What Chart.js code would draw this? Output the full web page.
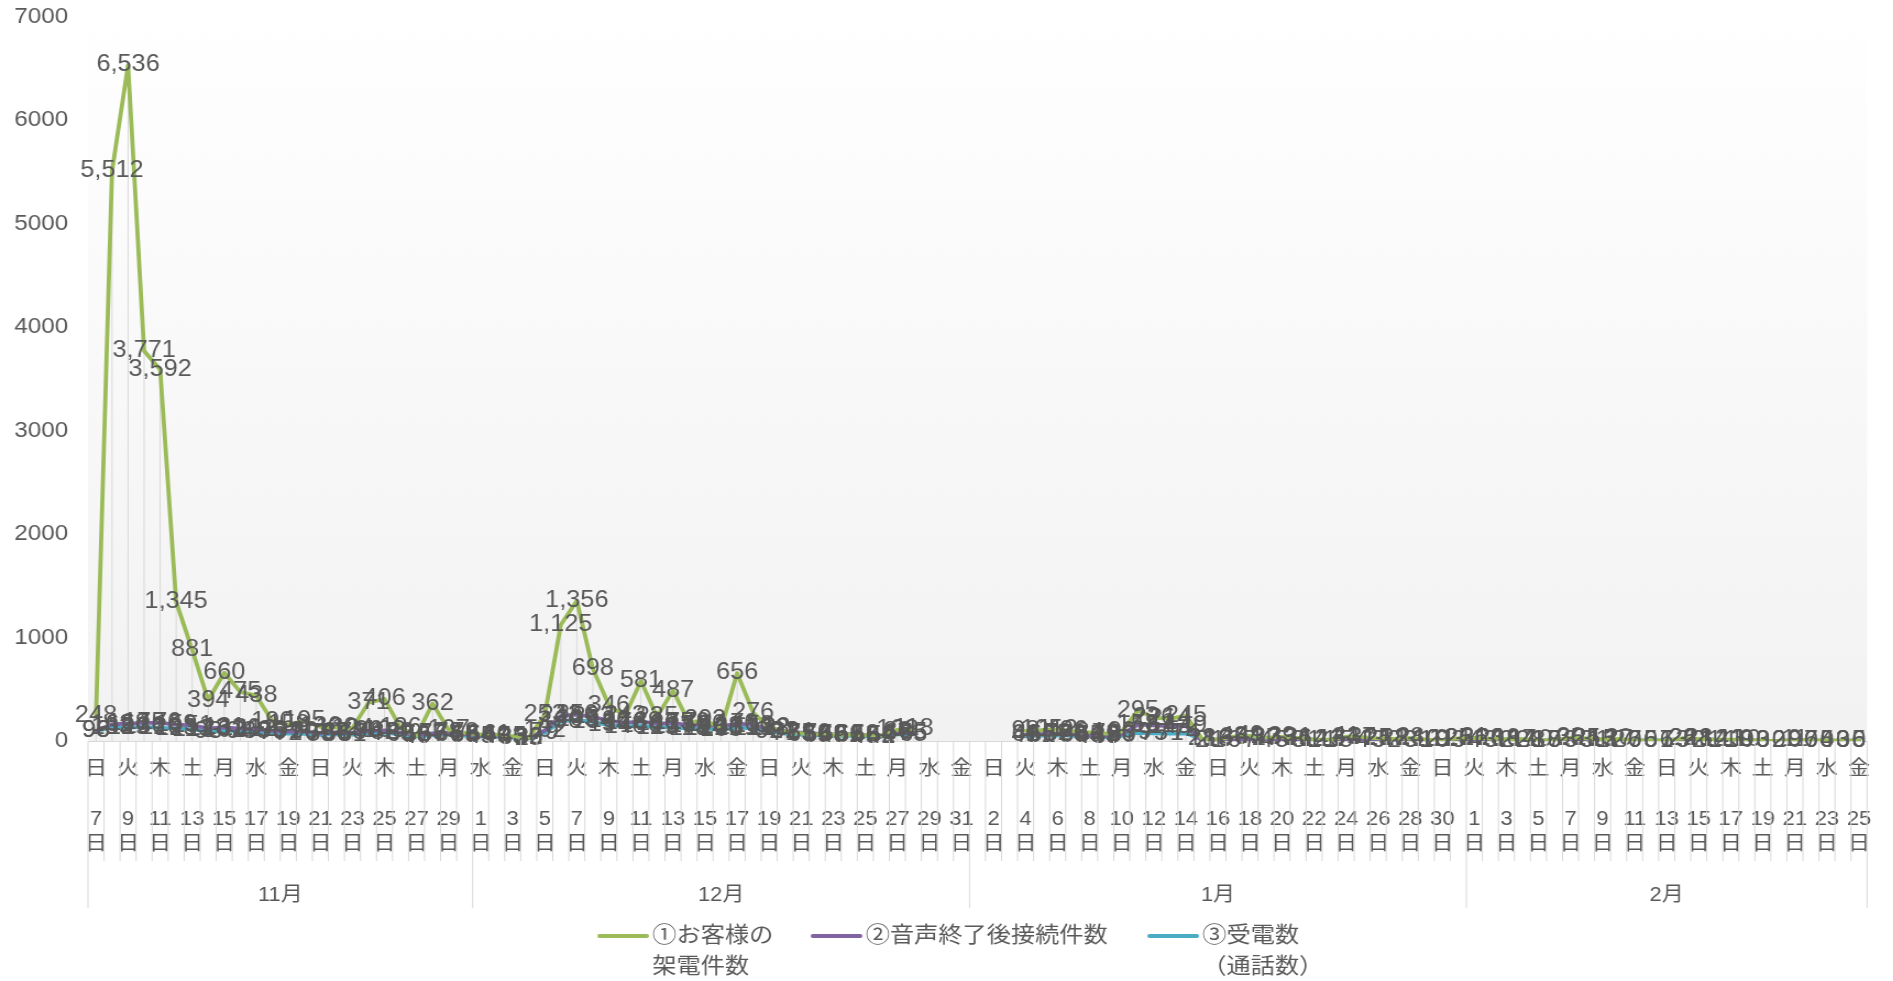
<!DOCTYPE html>
<html>
<head>
<meta charset="utf-8">
<title>架電件数の推移</title>
<script src="https://cdn.jsdelivr.net/npm/chart.js@4.4.0/dist/chart.umd.min.js"></script>
<style>
  html, body { margin: 0; padding: 0; background: #ffffff; overflow: hidden; }
  /* the chart is laid out 1721px wide and widened to 1893px */
  #wrap { width: 1721px; height: 981px; transform: scaleX(1.1); transform-origin: 0 0; }
  canvas { display: block; }
</style>
</head>
<body>
<div id="wrap"><canvas id="chart" width="1721" height="981"></canvas></div>
<script>
// ---- categories: 7 Nov – 25 Feb ----
const monthNames = ['11月', '12月', '1月', '2月'];
const monthFirstDay = [7, 1, 1, 1];
const monthLastDay = [30, 31, 31, 25];
const weekdayNames = ['日', '月', '火', '水', '木', '金', '土'];
const firstWeekday = 0; // 11月7日 is a Sunday

// ---- series (daily counts) ----
const customerCalls = [
  // 11月
  248, 5512, 6536, 3771, 3592, 1345, 881, 394, 660, 475, 438, 190, 158, 195, 136, 130, 124, 371, 406, 126, 53, 362, 107, 78,
  // 12月
  64, 61, 45, 32, 253, 1125, 1356, 698, 346, 243, 581, 235, 487, 179, 202, 121, 656, 276, 132, 92, 75, 64, 58, 61, 56, 52, 108, 118, null, null, null,
  // 1月
  null, null, null, 98, 105, 112, 96, 84, 72, 90, 295, 226, 214, 245, 21, 16, 43, 49, 32, 39, 31, 14, 13, 41, 37, 25, 21, 28, 12, 11, 25,
  // 2月
  31, 23, 19, 17, 10, 8, 30, 25, 15, 20, 7, 6, 7, 26, 21, 14, 13, 10, 3, 2, 11, 7, 5, 3, 6
];
const afterVoiceConnections = [
  98, 162, 168, 175, 176, 159, 151, 123, 131, 120, 112, 96, 91, 90, 75, 83, 78, 96, 103, 80, 56, 73, 78, 66,
  54, 49, 43, 30, 102, 243, 256, 233, 196, 176, 189, 166, 175, 152, 160, 138, 170, 153, 118, 92, 81, 70, 63, 66, 58, 54, 86, 85, null, null, null,
  null, null, null, 61, 66, 72, 63, 55, 49, 63, 158, 151, 143, 149, 2, 1, 6, 7, 4, 5, 3, 1, 1, 5, 4, 3, 2, 3, 1, 0, 3,
  4, 3, 2, 2, 1, 0, 3, 3, 1, 2, 0, 0, 1, 3, 2, 1, 1, 0, 0, 0, 0, 0, 0, 0, 0
];
const receivedCalls = [
  96, 133, 129, 136, 126, 123, 113, 93, 102, 94, 88, 76, 72, 70, 59, 66, 61, 74, 82, 63, 46, 57, 64, 53,
  45, 40, 33, 25, 79, 190, 205, 184, 154, 140, 146, 129, 137, 118, 124, 106, 131, 119, 92, 71, 63, 55, 49, 52, 45, 42, 67, 65, null, null, null,
  null, null, null, 48, 52, 57, 50, 44, 38, 50, 79, 75, 71, 74, 18, 13, 36, 41, 27, 33, 26, 12, 11, 34, 31, 21, 18, 24, 10, 9, 21,
  26, 20, 16, 14, 8, 7, 25, 21, 13, 17, 6, 5, 6, 22, 18, 12, 11, 9, 3, 2, 9, 6, 4, 3, 5
];

const seriesNames = [['①お客様の', '架電件数'], ['②音声終了後接続件数'], ['③受電数', '（通話数）']];
const seriesColors = ['#9bbb59', '#8064a2', '#4bacc6'];
const yTicks = { min: 0, max: 7000, step: 1000 };

// build the category list (month / day / weekday)
const categories = [];
const monthStartIndex = [];
let wd = firstWeekday;
monthNames.forEach((m, mi) => {
  monthStartIndex.push(categories.length);
  for (let d = monthFirstDay[mi]; d <= monthLastDay[mi]; d++) {
    categories.push({ month: m, day: d, weekday: weekdayNames[wd] });
    wd = (wd + 1) % 7;
  }
});
monthStartIndex.push(categories.length);

const FONT = '"Liberation Sans", "Noto Sans CJK JP", sans-serif';
const TEXT = '#595959';
const RULE = '#d9d9d9';

Chart.defaults.font.family = FONT;
Chart.defaults.color = TEXT;

const excelDecor = {
  id: 'excelDecor',
  beforeDraw(chart) {
    const { ctx, chartArea: a } = chart;
    const g = ctx.createLinearGradient(0, a.top, 0, a.bottom);
    g.addColorStop(0, '#ffffff');
    g.addColorStop(1, '#f2f2f2');
    ctx.save();
    ctx.fillStyle = g;
    ctx.fillRect(a.left, a.top, a.right - a.left, a.bottom - a.top);
    ctx.restore();
  },
  beforeDatasetsDraw(chart) {
    const { ctx, chartArea: a } = chart;
    const metas = chart.data.datasets.map((d, k) => chart.getDatasetMeta(k));
    ctx.save();
    ctx.strokeStyle = RULE;
    ctx.lineWidth = 1;
    // drop lines from the highest point of each day
    for (let i = 0; i < categories.length; i++) {
      let top = null, x = null;
      chart.data.datasets.forEach((ds, k) => {
        if (ds.data[i] == null) return;
        const pt = metas[k].data[i];
        if (top === null || pt.y < top) top = pt.y;
        x = pt.x;
      });
      if (top === null) continue;
      ctx.beginPath();
      ctx.moveTo(x, a.bottom);
      ctx.lineTo(x, top);
      ctx.stroke();
    }
    // horizontal axis line
    ctx.beginPath();
    ctx.moveTo(a.left, a.bottom + 0.5);
    ctx.lineTo(a.right, a.bottom + 0.5);
    ctx.stroke();
    ctx.restore();
  },
  afterDatasetsDraw(chart) {
    const { ctx } = chart;
    ctx.save();
    ctx.font = '23px ' + FONT;
    ctx.fillStyle = TEXT;
    ctx.textAlign = 'center';
    ctx.textBaseline = 'middle';
    chart.data.datasets.forEach((ds, k) => {
      const meta = chart.getDatasetMeta(k);
      ds.data.forEach((v, i) => {
        if (v == null) return;
        const pt = meta.data[i];
        ctx.fillText(v.toLocaleString('en-US'), pt.x, pt.y);
      });
    });
    ctx.restore();
  },
  afterDraw(chart) {
    const { ctx, chartArea: a } = chart;
    const xs = chart.scales.x;
    const step = xs.getPixelForValue(1) - xs.getPixelForValue(0);
    const edge = i => xs.getPixelForValue(i) - step / 2;
    ctx.save();
    ctx.strokeStyle = RULE;
    ctx.lineWidth = 1;
    // day separators under the axis
    for (let i = 0; i <= categories.length; i++) {
      const x = edge(i);
      const isMonth = monthStartIndex.includes(i);
      ctx.beginPath();
      ctx.moveTo(x, a.bottom);
      ctx.lineTo(x, isMonth ? 908 : 861);
      ctx.stroke();
    }
    // month labels
    ctx.font = '20px ' + FONT;
    ctx.fillStyle = TEXT;
    ctx.textAlign = 'center';
    ctx.textBaseline = 'middle';
    for (let m = 0; m < monthNames.length; m++) {
      const x0 = edge(monthStartIndex[m]);
      const x1 = edge(monthStartIndex[m + 1]);
      ctx.fillText(monthNames[m], (x0 + x1) / 2, 895);
    }
    // legend
    const legendX = [543, 737, 1043];
    const sampleLen = 45;
    ctx.font = '22px ' + FONT;
    ctx.textAlign = 'left';
    chart.data.datasets.forEach((ds, k) => {
      const x = legendX[k];
      ctx.strokeStyle = ds.borderColor;
      ctx.lineWidth = 4;
      ctx.lineCap = 'round';
      ctx.beginPath();
      ctx.moveTo(x + 2, 936);
      ctx.lineTo(x + sampleLen, 936);
      ctx.stroke();
      seriesNames[k].forEach((line, j) => {
        ctx.fillText(line, x + sampleLen + 5, 936 + j * 31);
      });
    });
    ctx.restore();
  }
};

new Chart(document.getElementById('chart'), {
  type: 'line',
  data: {
    labels: categories.map(c => c.month + c.day + '日'),
    datasets: [customerCalls, afterVoiceConnections, receivedCalls].map((data, k) => ({
      label: seriesNames[k].join(''),
      data,
      borderColor: seriesColors[k],
      backgroundColor: seriesColors[k],
      borderWidth: 3.8,
      borderJoinStyle: 'round',
      borderCapStyle: 'round',
      pointRadius: 0,
      pointHoverRadius: 0,
      spanGaps: false,
      tension: 0
    }))
  },
  options: {
    responsive: false,
    animation: false,
    events: [],
    layout: { padding: { top: 17, right: 23.7, bottom: 0, left: 0 } },
    plugins: { legend: { display: false }, tooltip: { enabled: false } },
    scales: {
      x: {
        type: 'category',
        offset: true,
        grid: { display: false, drawTicks: false },
        border: { display: false },
        ticks: {
          autoSkip: false,
          maxRotation: 0,
          minRotation: 0,
          padding: 15.5,
          color: TEXT,
          font: { size: 20, lineHeight: 1.25 },
          callback: (value, index) => {
            if (index % 2 !== 0) return '';
            const c = categories[index];
            return [c.weekday, '', String(c.day), '日'];
          }
        },
        afterFit: s => { s.height = 240; s.paddingLeft = 0; s.paddingRight = 0; }
      },
      y: {
        min: yTicks.min,
        max: yTicks.max,
        grid: { display: false, drawTicks: false },
        border: { display: false },
        ticks: {
          stepSize: yTicks.step,
          padding: 18,
          color: TEXT,
          font: { size: 22 },
          callback: v => String(v)
        },
        afterFit: s => { s.width = 80; s.paddingTop = 0; s.paddingBottom = 0; }
      }
    }
  },
  plugins: [excelDecor]
});
</script>
</body>
</html>
